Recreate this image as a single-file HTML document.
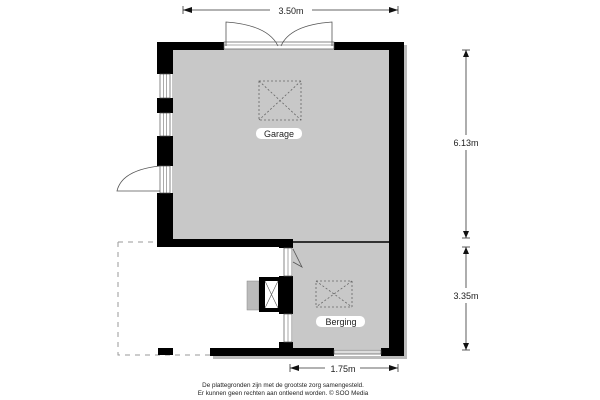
<!DOCTYPE html>
<html><head><meta charset="utf-8"><style>
html,body{margin:0;padding:0;background:#fff;width:600px;height:400px;overflow:hidden}
svg{display:block}
text{font-family:"Liberation Sans",sans-serif;fill:#222}
</style></head><body>
<svg width="600" height="400" viewBox="0 0 600 400" xmlns="http://www.w3.org/2000/svg">
<!-- shadows -->
<rect x="404" y="45" width="3" height="314" fill="#bbb"/>
<rect x="213" y="356" width="194" height="3" fill="#bbb"/>
<!-- floors -->
<rect x="172" y="49" width="217" height="193" fill="#c8c8c8"/>
<rect x="293" y="242" width="96" height="107" fill="#c8c8c8"/>
<line x1="293" y1="242" x2="389" y2="242" stroke="#000" stroke-width="1.5"/>
<!-- dashed outline -->
<path d="M118 242 H157 M118 242 V355 H210" stroke="#999" stroke-width="1" fill="none" stroke-dasharray="5,5"/>
<rect x="158" y="348" width="15" height="7" fill="#000"/>
<!-- walls -->
<rect x="157" y="42" width="67" height="8" fill="#000"/>
<rect x="334" y="42" width="70" height="8" fill="#000"/>
<rect x="389" y="42" width="15" height="314" fill="#000"/>
<rect x="157" y="42" width="16" height="32" fill="#000"/>
<rect x="157" y="98" width="16" height="15" fill="#000"/>
<rect x="157" y="136" width="16" height="30" fill="#000"/>
<rect x="157" y="193" width="16" height="54" fill="#000"/>
<rect x="157" y="239" width="128" height="8" fill="#000"/>
<rect x="279" y="239" width="14" height="9" fill="#000"/>
<rect x="279" y="276" width="14" height="38" fill="#000"/>
<rect x="279" y="342" width="14" height="8" fill="#000"/>
<rect x="210" y="348" width="124" height="8" fill="#000"/>
<rect x="381" y="348" width="23" height="8" fill="#000"/>
<!-- windows -->
<g stroke="#555" stroke-width="0.7" fill="#fff">
<rect x="160" y="74" width="10" height="24"/><rect x="160" y="113" width="10" height="23"/><rect x="160" y="166" width="10" height="27"/>
<rect x="284" y="248" width="8" height="28"/><rect x="284" y="314" width="8" height="28"/>
<rect x="224" y="42" width="110" height="7"/>
<rect x="334" y="350" width="47" height="4" fill="#ddd"/>
</g>
<g stroke="#555" stroke-width="0.5">
<line x1="163.5" y1="74" x2="163.5" y2="98"/><line x1="166.5" y1="74" x2="166.5" y2="98"/>
<line x1="163.5" y1="113" x2="163.5" y2="136"/><line x1="166.5" y1="113" x2="166.5" y2="136"/>
<line x1="163.5" y1="166" x2="163.5" y2="193"/><line x1="166.5" y1="166" x2="166.5" y2="193"/>
<line x1="288" y1="248" x2="288" y2="276"/><line x1="288" y1="314" x2="288" y2="342"/>
<line x1="224" y1="45" x2="334" y2="45"/>
</g>
<!-- doors -->
<g stroke="#555" stroke-width="0.8" fill="none">
<path d="M226 46 V22 Q268 25 278 46"/>
<path d="M332 46 V22 Q290 25 281 46"/>
<path d="M160 191 H117 Q122 170 160 166"/>
<path d="M293 249 L302 267 L293 262"/>
</g>
<!-- chimney/box -->
<rect x="247" y="281" width="12" height="29" fill="#bbb" stroke="#888" stroke-width="0.5"/>
<rect x="259" y="277" width="20" height="35" fill="#000"/>
<rect x="265" y="281" width="13" height="27" fill="#fff"/>
<path d="M265 281 L278 308 M278 281 L265 308" stroke="#555" stroke-width="0.6"/>
<!-- skylights -->
<g stroke="#666" stroke-width="0.8" fill="none" stroke-dasharray="2,2">
<rect x="259" y="81" width="42" height="39"/><path d="M259 81 L301 120 M301 81 L259 120"/>
<rect x="316" y="281" width="36" height="26"/><path d="M316 281 L352 307 M352 281 L316 307"/>
</g>
<!-- labels -->
<rect x="256" y="128" width="46" height="11" rx="5" fill="#fff"/>
<text x="279" y="137" font-size="9" text-anchor="middle">Garage</text>
<rect x="316" y="316" width="49" height="11" rx="5" fill="#fff"/>
<text x="341" y="325" font-size="9" text-anchor="middle">Berging</text>
<!-- dimensions -->
<g stroke="#333" stroke-width="0.8">
<line x1="183" y1="10" x2="270" y2="10"/><line x1="312" y1="10" x2="398" y2="10"/>
<line x1="183" y1="6" x2="183" y2="14"/><line x1="398" y1="6" x2="398" y2="14"/>
<line x1="466" y1="50" x2="466" y2="135"/><line x1="466" y1="150" x2="466" y2="238"/>
<line x1="466" y1="247" x2="466" y2="288"/><line x1="466" y1="303" x2="466" y2="350"/>
<line x1="462" y1="50" x2="470" y2="50"/><line x1="462" y1="238" x2="470" y2="238"/>
<line x1="462" y1="247" x2="470" y2="247"/><line x1="462" y1="350" x2="470" y2="350"/>
<line x1="290" y1="368" x2="325" y2="368"/><line x1="360" y1="368" x2="398" y2="368"/>
<line x1="290" y1="364" x2="290" y2="372"/><line x1="398" y1="364" x2="398" y2="372"/>
</g>
<g fill="#111">
<path d="M183 10 L192 7 V13Z"/><path d="M398 10 L389 7 V13Z"/>
<path d="M466 50 L463 57 H469Z"/><path d="M466 238 L463 231 H469Z"/>
<path d="M466 247 L463 254 H469Z"/><path d="M466 350 L463 343 H469Z"/>
<path d="M290 368 L299 365 V371Z"/><path d="M398 368 L389 365 V371Z"/>
</g>
<text x="291" y="14" font-size="9" text-anchor="middle">3.50m</text>
<text x="466" y="146" font-size="9" text-anchor="middle">6.13m</text>
<text x="466" y="299" font-size="9" text-anchor="middle">3.35m</text>
<text x="343" y="372" font-size="9" text-anchor="middle">1.75m</text>
<text x="283" y="387" font-size="6.3" text-anchor="middle">De plattegronden zijn met de grootste zorg samengesteld.</text>
<text x="283" y="395" font-size="6.3" text-anchor="middle">Er kunnen geen rechten aan ontleend worden. © SOO Media</text>
</svg>
</body></html>
